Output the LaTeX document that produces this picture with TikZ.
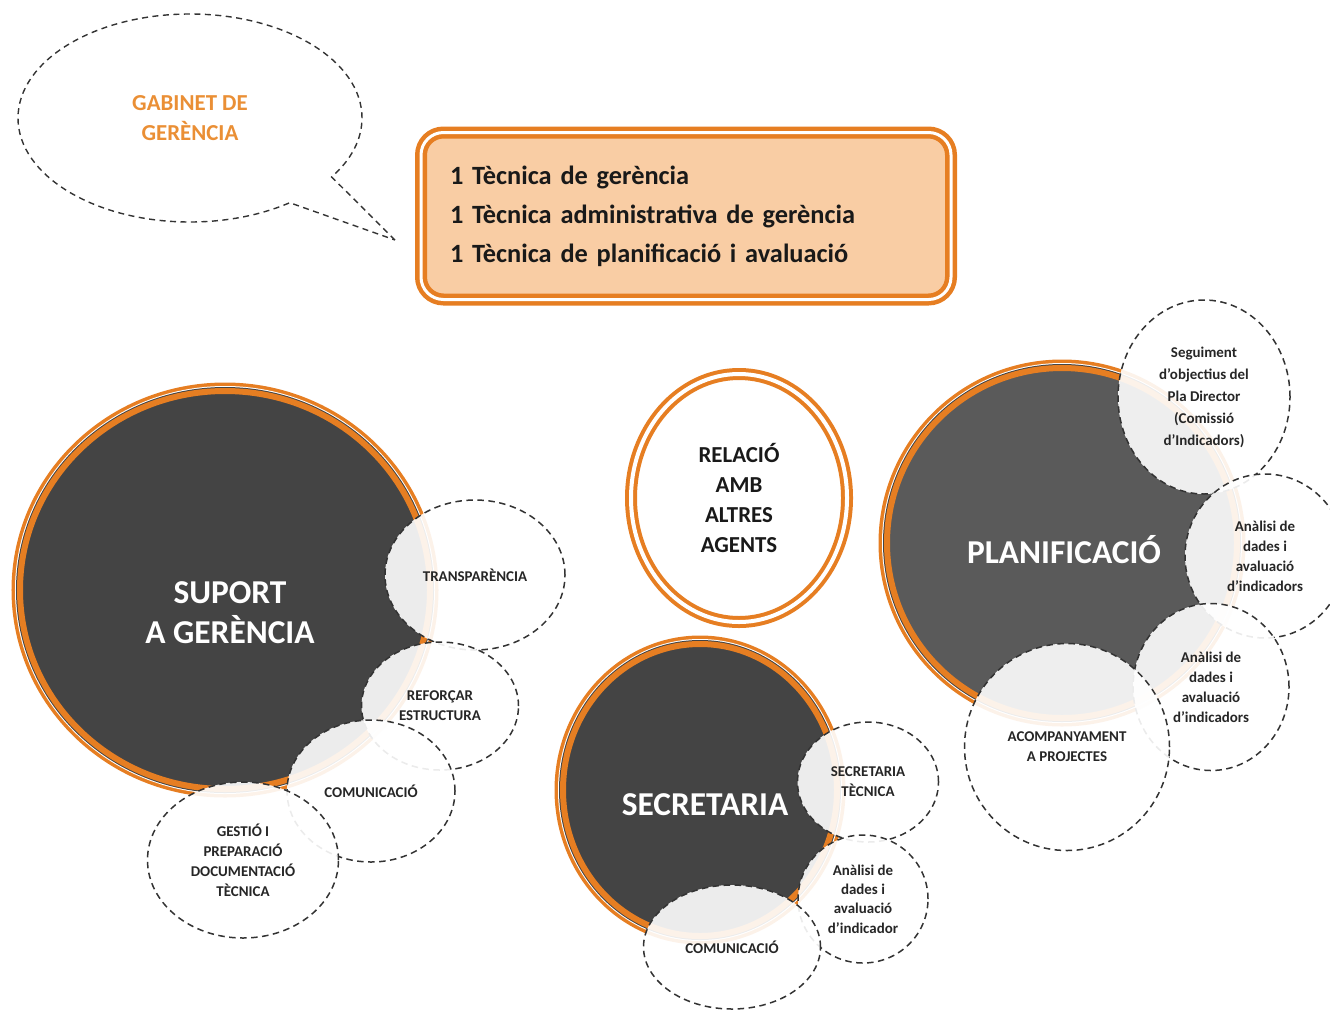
\documentclass[tikz,border=0pt]{standalone}
\usepackage{fontspec}
\setmainfont{Carlito}
\usetikzlibrary{shapes.geometric,shapes.callouts}
\definecolor{taronja}{HTML}{E67E22}
\definecolor{preseg}{HTML}{F9CDA4}
\definecolor{fosc}{HTML}{444444}
\definecolor{fosclar}{HTML}{5A5A5A}
\definecolor{gabtext}{HTML}{EA8F35}

\begin{document}
\begin{tikzpicture}[x=0.2mm,y=-0.2mm]
  \useasboundingbox (0,0) rectangle (1330,1010);

  \tikzstyle{bigcircle}=[ellipse, fill=fosc, draw=taronja, line width=1.2mm,
    preaction={draw=taronja, line width=3.4mm},
    preaction={draw=white, line width=2mm},
    preaction={draw=fosc, line width=1.6mm}]
  \tikzstyle{bigtext}=[text=white, align=center,
    font=\bfseries\fontsize{19}{22.8}\selectfont]
  \tikzstyle{subarea}=[ellipse, draw=black!80, dashed, dash pattern=on 1.3mm off 0.9mm,
    line width=0.3mm, fill=white, fill opacity=0.9, text opacity=1, inner sep=0pt,
    align=center, text=black!85, font=\bfseries\fontsize{8.5}{11.4}\selectfont]

  \node[ellipse callout, draw=black!80, dashed, dash pattern=on 1.2mm off 0.9mm,
    line width=0.28mm, minimum width=68.8mm, minimum height=41.6mm,
    callout absolute pointer={(395,240)}, callout pointer arc=20,
    text=gabtext, align=center, font=\bfseries\fontsize{13}{17}\selectfont]
    (gabinet) at (190,118) {GABINET DE\\GERÈNCIA};

  \node[draw=taronja, line width=0.9mm, double=white, double distance=0.6mm,
    fill=preseg, rounded corners=4.5mm, minimum height=33.4mm, text width=94.4mm,
    inner xsep=5.8mm, align=left, text=black!90,
    font=\bfseries\fontsize{15}{22.2}\selectfont]
    (tecniques) at (686,216) {1 Tècnica de gerència\\1 Tècnica administrativa de gerència\\1 Tècnica de planificació i avaluació};

  \node[ellipse, draw=taronja, line width=0.8mm, double=white, double distance=0.8mm,
    fill=white, minimum width=43.2mm, minimum height=49.6mm, align=center,
    text=black!90, font=\bfseries\fontsize{13}{17.1}\selectfont]
    (relacio) at (739,498) {RELACIÓ\\AMB\\ALTRES\\AGENTS};

  % grans
  \node[bigcircle, minimum width=82mm, minimum height=79.6mm] (suport) at (225,590) {};
  \node[bigcircle, minimum width=54.8mm, minimum height=58.4mm] (secretaria) at (700,790) {};
  \node[bigcircle, fill=fosclar, minimum size=70mm] (planif) at (1062,543) {};

  \node[bigtext] (suport-txt) at (230,613) {SUPORT\\A GERÈNCIA};
  \node[bigtext] (secretaria-txt) at (705,805) {SECRETARIA};
  \node[bigtext] (planif-txt) at (1064,550) {PLANIFICACIÓ};

  % suport
  \node[subarea, minimum width=36mm, minimum height=30mm] (transp) at (475,575) {TRANSPARÈNCIA};
  \node[subarea, minimum width=31.4mm, minimum height=25.6mm] (reforcar) at (440,706) {REFORÇAR\\ESTRUCTURA};
  \node[subarea, minimum width=33.6mm, minimum height=28.4mm] (comunic-a) at (371,791) {COMUNICACIÓ};
  \node[subarea, minimum width=38.2mm, minimum height=31.2mm] (gestio) at (243,860) {GESTIÓ I\\PREPARACIÓ\\DOCUMENTACIÓ\\TÈCNICA};

  % secretaria
  \node[subarea, minimum width=28.2mm, minimum height=24mm] (sectec) at (868,782) {SECRETARIA\\TÈCNICA};
  \node[subarea, minimum width=26mm, minimum height=25.6mm,
    font=\bfseries\fontsize{8.5}{11}\selectfont] (analisi-a) at (863,899) {Anàlisi de\\dades i\\avaluació\\d’indicador};
  \node[subarea, minimum width=35.4mm, minimum height=24.8mm] (comunic-b) at (732,947) {COMUNICACIÓ};

  % planificacio
  \node[subarea, minimum width=34.4mm, minimum height=38.8mm,
    font=\bfseries\fontsize{8.5}{12.5}\selectfont] (seguiment) at (1204,397) {Seguiment\\d’objectius del\\Pla Director\\(Comissió\\d’Indicadors)};
  \node[subarea, minimum width=32mm, minimum height=32.8mm] (analisi-b) at (1265,556) {Anàlisi de\\dades i\\avaluació\\d’indicadors};
  \node[subarea, minimum width=31.2mm, minimum height=33.4mm] (analisi-c) at (1211,687) {Anàlisi de\\dades i\\avaluació\\d’indicadors};
  \node[subarea, minimum width=41mm, minimum height=41.4mm] (acomp) at (1067,747) {ACOMPANYAMENT\\A PROJECTES};

\end{tikzpicture}
\end{document}
